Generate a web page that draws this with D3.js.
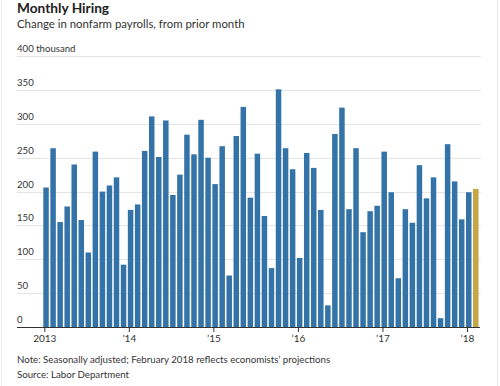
<!DOCTYPE html>
<html>
<head>
<meta charset="utf-8">
<script src="https://cdn.jsdelivr.net/npm/d3@7"></script>
<style>
  body { margin: 0; background: #fff; }
  svg { display: block; font-family: Lato, "Noto Sans", sans-serif; }
</style>
</head>
<body>
<div id="chart"></div>
<script>
'use strict';

// change in nonfarm payrolls, thousands, Jan 2013 .. Feb 2018
var hires = [
  206, 264, 155, 178, 240, 158, 110, 259, 200, 209, 221, 92,
  173, 181, 260, 311, 251, 305, 195, 225, 284, 255, 306, 250,
  211, 267, 76, 282, 325, 191, 256, 164, 87, 351, 264, 233,
  102, 257, 235, 173, 32, 285, 324, 174, 264, 140, 171, 179,
  259, 199, 72, 174, 154, 239, 190, 221, 13, 270, 215, 159,
  199, 204
];
var projected = [61]; // index of the estimate bar (Feb 2018)
var yTicks = [0, 50, 100, 150, 200, 250, 300, 350, 400];
var xTickLabels = ['2013', '\u201914', '\u201915', '\u201916', '\u201917', '\u201918'];

var width = 500, height = 386;

var svg = d3.select('#chart').append('svg')
  .attr('width', width)
  .attr('height', height);

// faint frame edges
svg.append('line').attr('x1', 1.5).attr('x2', 1.5).attr('y1', 0).attr('y2', height)
  .attr('stroke', '#ececec');
svg.append('line').attr('x1', 497.5).attr('x2', 497.5).attr('y1', 0).attr('y2', height)
  .attr('stroke', '#e6e6e6');

svg.append('text')
  .attr('x', 17).attr('y', 13)
  .style('font-size', '13.7px').style('font-weight', 'bold').style('fill', '#222')
  .text('Monthly Hiring');
svg.append('text')
  .attr('x', 17).attr('y', 28)
  .style('font-size', '11.4px').style('fill', '#333')
  .text('Change in nonfarm payrolls, from prior month');

var yScale = d3.scaleLinear().domain([0, 350]).range([327, 90]);

var xScale = d3.scaleBand()
  .domain(d3.range(hires.length))
  .range([43.3, 43.3 + 7.02 * hires.length])
  .paddingInner(0.22)
  .paddingOuter(0);

var plotLeft = 17, plotRight = 481;

// gridlines and labels
var grid = svg.append('g').attr('class', 'grid');
grid.selectAll('line')
  .data(yTicks.filter(function(d) { return d > 0; }))
  .enter().append('line')
  .attr('x1', plotLeft).attr('x2', plotRight)
  .attr('y1', function(d) { return Math.round(yScale(d)) + 0.5; })
  .attr('y2', function(d) { return Math.round(yScale(d)) + 0.5; })
  .attr('stroke', '#e4e4e4');

grid.selectAll('text')
  .data(yTicks)
  .enter().append('text')
  .attr('x', plotLeft)
  .attr('y', function(d) { return yScale(d) - 4; })
  .style('font-size', '9.6px').style('fill', '#333')
  .text(function(d) { return d === 400 ? '400 thousand' : d; });

// bars
svg.append('g').attr('class', 'bars')
  .selectAll('rect')
  .data(hires)
  .enter().append('rect')
  .attr('x', function(d, i) { return xScale(i); })
  .attr('width', xScale.bandwidth())
  .attr('y', function(d) { return yScale(d); })
  .attr('height', function(d) { return yScale(0) - yScale(d); })
  .style('fill', function(d, i) { return projected.indexOf(i) >= 0 ? '#c4a646' : '#3473a8'; });

// x axis
var axis = svg.append('g').attr('class', 'xAxis');
axis.append('line')
  .attr('x1', plotLeft).attr('x2', 480)
  .attr('y1', 327.5).attr('y2', 327.5)
  .attr('stroke', '#333');

var tickData = xTickLabels.map(function(label, k) { return { label: label, i: k * 12 }; });
var ticks = axis.selectAll('g.tick')
  .data(tickData)
  .enter().append('g')
  .attr('class', 'tick')
  .attr('transform', function(d) { return 'translate(' + (xScale(d.i) + 1.5) + ',0)'; });
ticks.append('line')
  .attr('y1', 327).attr('y2', 332)
  .attr('stroke', '#333');
ticks.append('text')
  .attr('y', 342)
  .attr('text-anchor', 'middle')
  .style('font-size', '10px').style('fill', '#333')
  .text(function(d) { return d.label; });

svg.append('text')
  .attr('x', 17).attr('y', 363)
  .style('font-size', '9.7px').style('fill', '#333')
  .text('Note: Seasonally adjusted; February 2018 reflects economists\u2019 projections');
svg.append('text')
  .attr('x', 17).attr('y', 378)
  .style('font-size', '9.7px').style('fill', '#333')
  .text('Source: Labor Department');
</script>
</body>
</html>
